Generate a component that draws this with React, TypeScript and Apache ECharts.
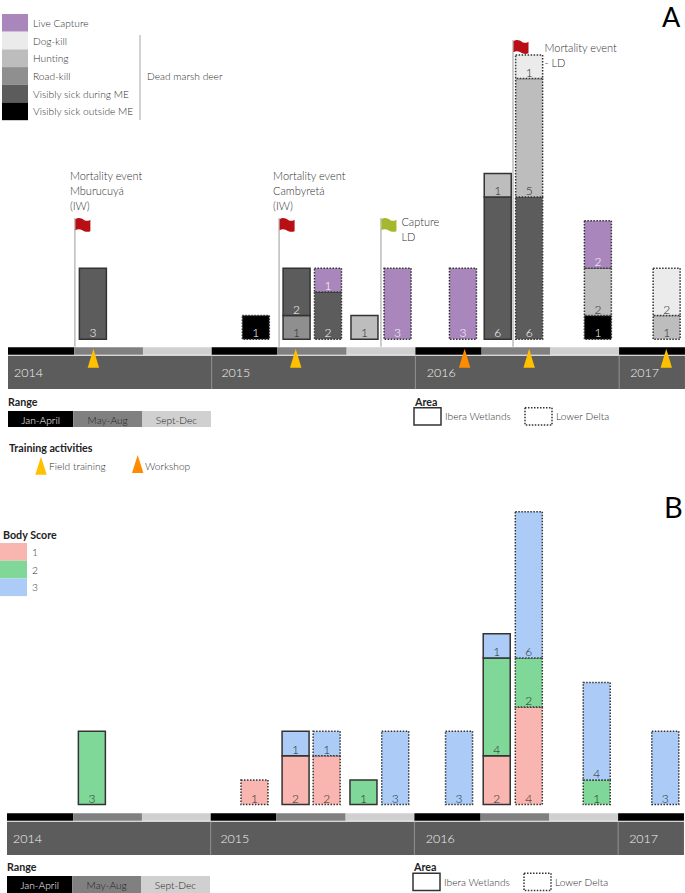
import React, { useEffect, useRef } from "react";
import * as echarts from "echarts";

// ---- Data ----
const yearLabels = ["2014", "2015", "2016", "2017"];
const yearStarts = [0, 12, 24, 36];
const yearEnds = [12, 24, 36, 39.88];
const yearLabelMonths = [0.35, 12.57, 24.67, 36.65];
const periodNames = ["Jan-April", "May-Aug", "Sept-Dec"];
const periodStarts = [0, 3.9, 7.95, 12, 15.85, 19.95, 24, 27.9, 31.95, 36];
const periodEnds = [3.9, 7.95, 12, 15.85, 19.95, 24, 27.9, 31.95, 36, 39.88];
const periodKinds = [0, 1, 2, 0, 1, 2, 0, 1, 2, 0];

// Panel A: mortality and capture counts per bar
const barMonthsA = [5, 14.6, 17, 18.85, 21, 22.95, 26.8, 28.85, 30.7, 34.75, 38.8];
const barAreas = ["IW", "LD", "IW", "LD", "IW", "LD", "LD", "IW", "LD", "LD", "LD"];
const sickOutsideME = [null, 1, null, null, null, null, null, null, null, 1, null];
const roadKill = [null, null, 1, null, null, null, null, null, null, null, null];
const sickDuringME = [3, null, 2, 2, null, null, null, 6, 6, null, null];
const hunting = [null, null, null, null, 1, null, null, 1, 5, 2, 1];
const dogKill = [null, null, null, null, null, null, null, null, 1, null, 2];
const liveCapture = [null, null, null, 1, null, 3, 3, null, null, 2, null];

// Panel B: body scores per bar
const barMonthsB = [5, 14.58, 17, 18.83, 21, 22.87, 26.63, 28.85, 30.74, 34.74, 38.78];
const bodyScore1 = [null, 1, 2, 2, null, null, null, 2, 4, null, null];
const bodyScore2 = [3, null, null, null, 1, null, null, 4, 2, 1, null];
const bodyScore3 = [null, null, 1, 1, null, 3, 3, 1, 6, 4, 3];

// Training activities
const trainingMonths = [5.03, 16.95, 26.9, 30.7, 38.78];
const trainingKinds = ["Field training", "Field training", "Workshop", "Field training", "Field training"];

// Events marked with a flag
const flagMonths = [3.94, 15.97, 21.97, 29.75];
const flagTops = [5.12, 5.12, 5.12, 12.63];
const flagKinds = ["mortality", "mortality", "capture", "mortality"];
const flagLabels = [
  "Mortality event\nMburucuyá\n(IW)",
  "Mortality event\nCambyretá\n(IW)",
  "Capture\nLD",
  "Mortality event\n- LD",
];

// ---- Styles ----
const FONT = "Lato";
const LIGHT = 300;
const INK = "#2f2f2f";
const BORDER = "#333333";
const periodColors = ["#000000", "#808080", "#d0d0d0"];
const periodTextColors = ["#ffffff", "#222222", "#222222"];
const trainingColors: Record<string, string> = { "Field training": "#ffc000", Workshop: "#ff8c00" };
const flagColors: Record<string, string> = { mortality: "#b90e13", capture: "#a6b62e" };
const flagLabelOffsets = [
  { dx: -5, dy: -49.5 },
  { dx: -6, dy: -49.5 },
  { dx: 20.5, dy: -4 },
  { dx: 31.5, dy: 0 },
];
const FLAG_PATH =
  "M0 1 C3 -1 6 0 9 2 C11 3.2 13 2.8 15 1.5 L15 13 C12 14.5 9.5 13.5 7 12 C4.5 10.8 2 10.8 0 12 Z";

const panelA = { left: 8, base: 339.3, unit: 23.7, stripOffset: 8, yMax: 12 };
const panelB = { left: 7, base: 804.5, unit: 24.4, stripOffset: 8.8, yMax: 12 };
const PX_PER_MONTH = 16.975;
const X_MAX = 39.88;
const BAR_WIDTH = 27;

// One series per class; each segment sits on the running total of the classes drawn before it.
function stackSeries(
  classes: { name: string; values: (number | null)[]; color: string; labelColor: string }[],
  months: number[],
  axisIndex: number
) {
  const totals = months.map(() => 0);
  return classes.map((c) => {
    const rows: number[][] = [];
    c.values.forEach((v, i) => {
      if (v == null) return;
      rows.push([months[i], totals[i], totals[i] + v, v, barAreas[i] === "IW" ? 0 : 1]);
      totals[i] += v;
    });
    return {
      type: "custom",
      name: c.name,
      silent: true,
      z: 3,
      xAxisIndex: axisIndex,
      yAxisIndex: axisIndex,
      itemStyle: { color: c.color },
      encode: { x: 0, y: [1, 2] },
      data: rows,
      renderItem: (_params: any, api: any) => {
        const bottom = api.coord([api.value(0), api.value(1)]);
        const top = api.coord([api.value(0), api.value(2)]);
        return {
          type: "group",
          children: [
            {
              type: "rect",
              shape: { x: bottom[0] - BAR_WIDTH / 2, y: top[1], width: BAR_WIDTH, height: bottom[1] - top[1] },
              style: {
                fill: c.color,
                stroke: BORDER,
                lineWidth: 1.5,
                lineDash: api.value(4) === 1 ? [1.5, 1.5] : null,
              },
            },
            {
              type: "text",
              z2: 10,
              style: {
                x: bottom[0],
                y: bottom[1] - 6.5,
                text: String(api.value(3)),
                fill: c.labelColor,
                fontFamily: FONT,
                fontWeight: LIGHT,
                fontSize: 12,
                align: "center",
                verticalAlign: "middle",
              },
            },
          ],
        };
      },
    };
  });
}

function timelineSeries(axisIndex: number, stripOffset: number) {
  return [
    {
      type: "custom",
      name: "period strip",
      silent: true,
      xAxisIndex: axisIndex,
      yAxisIndex: axisIndex,
      encode: { x: [0, 1], y: 2 },
      data: periodStarts.map((s, i) => [s, periodEnds[i], 0]),
      renderItem: (params: any, api: any) => {
        const a = api.coord([api.value(0), 0]);
        const b = api.coord([api.value(1), 0]);
        return {
          type: "rect",
          shape: { x: a[0], y: a[1] + stripOffset, width: b[0] - a[0], height: 7.4 },
          style: { fill: periodColors[periodKinds[params.dataIndex]] },
        };
      },
    },
    {
      type: "custom",
      name: "year band",
      silent: true,
      xAxisIndex: axisIndex,
      yAxisIndex: axisIndex,
      encode: { x: [0, 1], y: 2 },
      data: yearStarts.map((s, i) => [s, yearEnds[i], 0]),
      renderItem: (params: any, api: any) => {
        const i = params.dataIndex;
        const a = api.coord([api.value(0), 0]);
        const b = api.coord([api.value(1), 0]);
        const lab = api.coord([yearLabelMonths[i], 0]);
        const top = a[1] + stripOffset + 8.4;
        return {
          type: "group",
          children: [
            { type: "rect", shape: { x: a[0], y: top, width: b[0] - a[0], height: 33.4 }, style: { fill: "#5c5c5c" } },
            ...(i > 0
              ? [
                  {
                    type: "line",
                    shape: { x1: a[0], y1: top, x2: a[0], y2: top + 33.4 },
                    style: { stroke: "#8c8c8c", lineWidth: 1 },
                  },
                ]
              : []),
            {
              type: "text",
              style: {
                x: lab[0],
                y: top + 17,
                text: yearLabels[i],
                fill: "#f2f2f2",
                fontFamily: FONT,
                fontWeight: LIGHT,
                fontSize: 12.5,
                verticalAlign: "middle",
              },
            },
          ],
        };
      },
    },
  ];
}

const trainingSeries = {
  type: "custom",
  name: "training activities",
  silent: true,
  z: 5,
  xAxisIndex: 0,
  yAxisIndex: 0,
  encode: { x: 0, y: 1 },
  data: trainingMonths.map((m) => [m, 0]),
  renderItem: (params: any, api: any) => {
    const p = api.coord([api.value(0), 0]);
    return {
      type: "polygon",
      shape: {
        points: [
          [p[0], p[1] + 9.4],
          [p[0] + 5.7, p[1] + 28.4],
          [p[0] - 5.7, p[1] + 28.4],
        ],
      },
      style: { fill: trainingColors[trainingKinds[params.dataIndex]] },
    };
  },
};

const flagSeries = {
  type: "custom",
  name: "events",
  silent: true,
  z: 1,
  xAxisIndex: 0,
  yAxisIndex: 0,
  encode: { x: 0, y: 1 },
  data: flagMonths.map((m, i) => [m, flagTops[i]]),
  renderItem: (params: any, api: any) => {
    const i = params.dataIndex;
    const top = api.coord([api.value(0), api.value(1)]);
    const foot = api.coord([api.value(0), 0]);
    return {
      type: "group",
      children: [
        {
          type: "line",
          shape: { x1: top[0], y1: top[1], x2: top[0], y2: foot[1] + 7.4 },
          style: { stroke: "#bcbcbc", lineWidth: 1.5 },
        },
        {
          type: "path",
          shape: { pathData: FLAG_PATH, x: top[0] + 0.5, y: top[1], width: 15, height: 14 },
          style: { fill: flagColors[flagKinds[i]] },
        },
        {
          type: "text",
          style: {
            x: top[0] + flagLabelOffsets[i].dx,
            y: top[1] + flagLabelOffsets[i].dy,
            text: flagLabels[i],
            fill: INK,
            fontFamily: FONT,
            fontWeight: LIGHT,
            fontSize: 11,
            lineHeight: 15,
            verticalAlign: "top",
          },
        },
      ],
    };
  },
};

// ---- Hand-placed keys ----
function txt(x: number, y: number, text: string, extra: any = {}) {
  return {
    type: "text",
    x,
    y,
    silent: true,
    z: 10,
    style: {
      text,
      fill: INK,
      fontFamily: FONT,
      fontWeight: LIGHT,
      fontSize: 10.2,
      verticalAlign: "middle",
      ...extra,
    },
  };
}
const bold = { fontWeight: 700, fill: "#222222", fontSize: 10.7 };

function box(x: number, y: number, w: number, h: number, style: any) {
  return { type: "rect", silent: true, z: 9, shape: { x, y, width: w, height: h }, style };
}

function tri(cx: number, top: number, h: number, fill: string) {
  return {
    type: "polygon",
    silent: true,
    shape: {
      points: [
        [cx, top],
        [cx + 5.7, top + h],
        [cx - 5.7, top + h],
      ],
    },
    style: { fill },
  };
}

function rangeKey(x: number, labelY: number, boxY: number, boxH: number) {
  const edges = [x, x + 65.3, x + 134, x + 203];
  const items: any[] = [txt(x, labelY, "Range", bold)];
  periodNames.forEach((name, i) => {
    items.push(box(edges[i], boxY, edges[i + 1] - edges[i], boxH, { fill: periodColors[i] }));
    items.push(
      txt((edges[i] + edges[i + 1]) / 2, boxY + boxH / 2 + 0.5, name, {
        fill: periodTextColors[i],
        align: "center",
        fontSize: 10.2,
      })
    );
  });
  return items;
}

function areaKey(x: number, labelY: number, boxY: number) {
  return [
    txt(x + 1, labelY, "Area", bold),
    box(x, boxY, 27, 17.3, { fill: "#fff", stroke: BORDER, lineWidth: 1.5 }),
    txt(x + 31, boxY + 8.5, "Ibera Wetlands"),
    box(x + 111, boxY, 27, 17.3, { fill: "#fff", stroke: BORDER, lineWidth: 1.5, lineDash: [1.5, 1.5] }),
    txt(x + 142, boxY + 8.5, "Lower Delta"),
  ];
}

function buildOption() {
  const legendText = { color: INK, fontFamily: FONT, fontWeight: LIGHT, fontSize: 10.2 };
  const hiddenX = (gridIndex: number) => ({ type: "value", min: 0, max: X_MAX, show: false, gridIndex });
  const hiddenY = (gridIndex: number, yMax: number) => ({
    type: "value",
    min: 0,
    max: yMax,
    show: false,
    gridIndex,
  });
  const width = X_MAX * PX_PER_MONTH;
  return {
    animation: false,
    backgroundColor: "#ffffff",
    grid: [
      { left: panelA.left, width, top: panelA.base - panelA.unit * panelA.yMax, height: panelA.unit * panelA.yMax },
      { left: panelB.left, width, top: panelB.base - panelB.unit * panelB.yMax, height: panelB.unit * panelB.yMax },
    ],
    xAxis: [hiddenX(0), hiddenX(1)],
    yAxis: [hiddenY(0, panelA.yMax), hiddenY(1, panelB.yMax)],
    legend: [
      {
        left: 2,
        top: 14,
        orient: "vertical",
        padding: 0,
        itemWidth: 26,
        itemHeight: 17.7,
        itemGap: 0,
        icon: "rect",
        selectedMode: false,
        textStyle: legendText,
        data: ["Live Capture", "Dog-kill", "Hunting", "Road-kill", "Visibly sick during ME", "Visibly sick outside ME"],
      },
      {
        left: 0,
        top: 543,
        orient: "vertical",
        padding: 0,
        itemWidth: 27,
        itemHeight: 17.7,
        itemGap: 0,
        icon: "rect",
        selectedMode: false,
        textStyle: legendText,
        data: ["1", "2", "3"],
      },
    ],
    series: [
      ...timelineSeries(0, panelA.stripOffset),
      flagSeries,
      ...stackSeries(
        [
          { name: "Visibly sick outside ME", values: sickOutsideME, color: "#000000", labelColor: "#ffffff" },
          { name: "Road-kill", values: roadKill, color: "#8f8f8f", labelColor: "#2a2a2a" },
          { name: "Visibly sick during ME", values: sickDuringME, color: "#5c5c5c", labelColor: "#ffffff" },
          { name: "Hunting", values: hunting, color: "#bdbdbd", labelColor: "#2a2a2a" },
          { name: "Dog-kill", values: dogKill, color: "#ebebeb", labelColor: "#2a2a2a" },
          { name: "Live Capture", values: liveCapture, color: "#a987bd", labelColor: "#ffffff" },
        ],
        barMonthsA,
        0
      ),
      trainingSeries,
      ...timelineSeries(1, panelB.stripOffset),
      ...stackSeries(
        [
          { name: "1", values: bodyScore1, color: "#f9b5af", labelColor: "#2a2a2a" },
          { name: "2", values: bodyScore2, color: "#7fd898", labelColor: "#2a2a2a" },
          { name: "3", values: bodyScore3, color: "#acccf7", labelColor: "#2a2a2a" },
        ],
        barMonthsB,
        1
      ),
    ],
    graphic: [
      txt(662, 16.5, "A", { fontSize: 27, fontWeight: 400, fill: "#000000" }),
      txt(664, 506, "B", { fontSize: 29, fontWeight: 400, fill: "#000000" }),
      { type: "line", silent: true, shape: { x1: 140, y1: 35, x2: 140, y2: 120 }, style: { stroke: "#b5b5b5", lineWidth: 1.2 } },
      txt(147, 76, "Dead marsh deer"),
      ...rangeKey(8, 401, 411, 16),
      ...areaKey(414, 401, 407.7),
      txt(9, 447, "Training activities", bold),
      tri(41, 456.7, 18, trainingColors["Field training"]),
      txt(49, 465.5, "Field training"),
      tri(137.7, 455, 18, trainingColors.Workshop),
      txt(145, 465.5, "Workshop"),
      txt(3, 534, "Body Score", bold),
      ...rangeKey(7, 866, 876, 17),
      ...areaKey(413, 866, 873.3),
    ],
  };
}

export default function App() {
  const ref = useRef<HTMLDivElement>(null);
  useEffect(() => {
    document.body.style.margin = "0";
    const chart = echarts.init(ref.current!, null, { renderer: "svg" });
    chart.setOption(buildOption() as any);
    return () => chart.dispose();
  }, []);
  return <div ref={ref} style={{ width: 685, height: 893, position: "absolute", left: 0, top: 0 }} />;
}
